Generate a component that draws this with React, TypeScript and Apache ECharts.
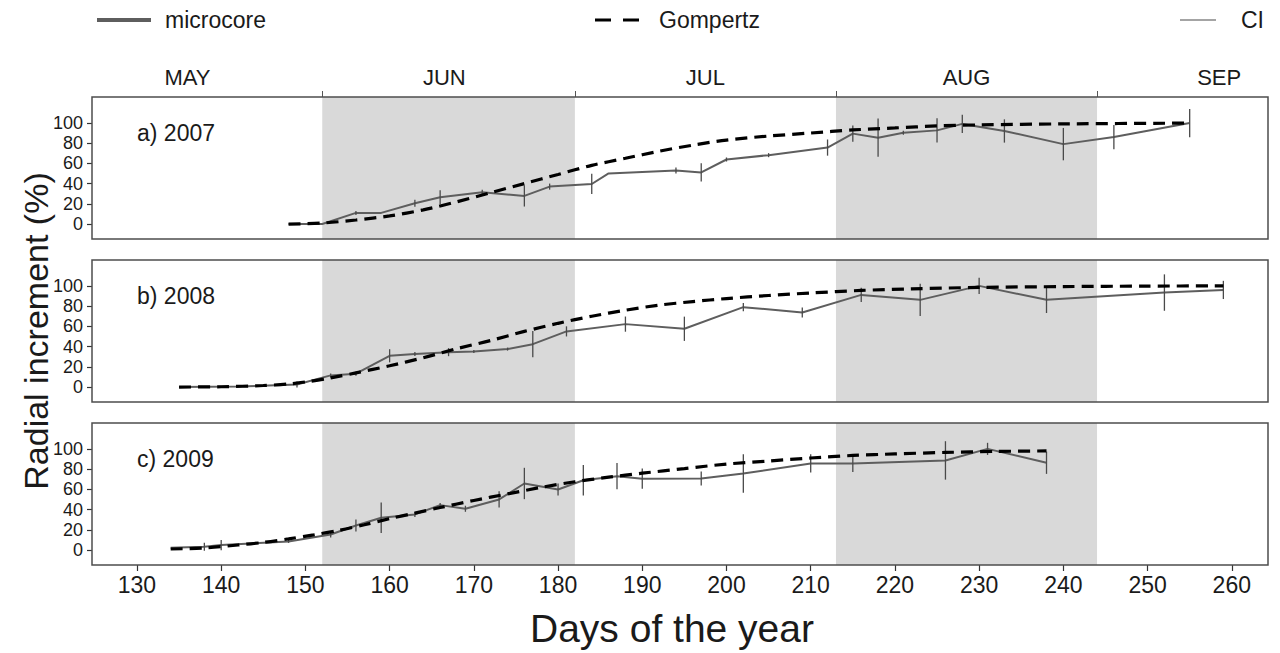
import React, { useEffect, useRef } from 'react';
import * as echarts from 'echarts';

const FONT = '"Liberation Sans", Arial, Helvetica, sans-serif';

// ---- axis ticks / labels ----
const xTicks = [130, 140, 150, 160, 170, 180, 190, 200, 210, 220, 230, 240, 250, 260];
const yTicks = [0, 20, 40, 60, 80, 100];
const monthNames = ['MAY', 'JUN', 'JUL', 'AUG', 'SEP'];
const monthCenters = [136, 166.5, 197.5, 228.5, 258.5];
const monthBounds = [152, 182, 213, 244];
const shadeRanges = [[152, 182], [213, 244]];
const panelLabels = ['a) 2007', 'b) 2008', 'c) 2009'];

// ---- 2007 ----
const daysA = [148, 152, 156, 159, 163, 166, 171, 176, 179, 184, 186, 194, 197, 200, 205, 212, 215, 218, 221, 225, 228, 233, 240, 246, 255];
const microA = [0, 0, 11, 11, 20.5, 26.5, 31.4, 27.8, 37, 39.6, 50, 53, 51, 63.8, 68.1, 75.6, 89.4, 85.4, 90.3, 92.6, 99, 92, 79, 86, 99.8];
const ciA = [0, 0, 2, 0, 3.5, 7, 2.5, 10.5, 3, 10, 0, 3, 9, 2, 2, 8, 8, 19, 2, 12, 9, 11.5, 16, 12, 14];
const gDaysA = [148, 152, 156, 160, 164, 168, 172, 176, 180, 184, 188, 192, 196, 200, 205, 210, 215, 220, 225, 230, 240, 255];
const gompA = [0, 1, 4, 8, 14, 22, 31, 40, 49, 58, 65, 72, 78, 83, 87, 90, 93, 95, 97, 98, 99, 99.8];

// ---- 2008 ----
const daysB = [135, 142, 149, 153, 156, 160, 163, 167, 170, 174, 177, 181, 188, 195, 202, 209, 216, 223, 230, 238, 252, 259];
const microB = [0, 0.5, 2.5, 11.5, 13.2, 30.9, 32.6, 34.5, 35.2, 37.5, 42.4, 55, 62.2, 57.6, 79, 73.7, 91.1, 86.2, 100, 86.2, 93.4, 96];
const ciB = [0, 0, 3, 2, 2, 6.5, 2, 4, 1.5, 1.5, 13, 5, 7.5, 12, 4, 5, 7, 16, 8, 13, 18, 9];
const gDaysB = [135, 140, 145, 148, 150, 153, 156, 160, 164, 168, 172, 176, 180, 184, 188, 192, 196, 200, 205, 210, 216, 222, 230, 240, 250, 259];
const gompB = [0, 0.3, 1.5, 3, 5, 9, 14, 21, 29, 38, 46, 55, 63, 70, 76, 81, 84.5, 87.5, 90.5, 93, 95.5, 97, 98.5, 99.3, 99.8, 100];

// ---- 2009 ----
const daysC = [134, 138, 140, 148, 153, 156, 159, 163, 166, 169, 173, 176, 180, 183, 187, 190, 197, 202, 210, 215, 226, 231, 238];
const microC = [2.2, 3.2, 4.9, 8.5, 15.4, 24.3, 31.9, 35.2, 44.4, 40.8, 50, 65.8, 59.9, 69, 73, 70.5, 70.7, 75.7, 85.6, 85.6, 88.6, 100, 86.3];
const ciC = [0, 4, 5, 1.5, 3, 6, 15, 2.5, 2, 3, 8, 15.5, 6, 15, 13, 10, 7, 19, 9, 8.5, 19, 6, 11];
const gDaysC = [134, 138, 142, 145, 148, 151, 154, 157, 160, 163, 166, 170, 174, 178, 182, 186, 190, 195, 200, 205, 210, 215, 220, 226, 232, 238];
const gompC = [1, 2, 5, 7.5, 11, 15, 19.5, 25, 31, 36.5, 42, 49, 55.5, 62, 67.5, 72, 76, 80.5, 85, 88, 91, 93.5, 95, 96.5, 97.5, 98];

const panels = [
  { days: daysA, micro: microA, ci: ciA, gDays: gDaysA, gomp: gompA },
  { days: daysB, micro: microB, ci: ciB, gDays: gDaysB, gomp: gompB },
  { days: daysC, micro: microC, ci: ciC, gDays: gDaysC, gomp: gompC },
];

const X_MIN = 124.66;
const X_MAX = 264.3;
const Y_MIN = -14.8;
const Y_MAX = 125.6;
const GRID_TOPS = [97, 260, 423];
const GRID_H = 142;
const GRID_LEFT = 92;
const GRID_RIGHT = 12;

const TXT = '#1a1a1a';

function buildOption(): any {
  const grid = GRID_TOPS.map((t) => ({
    left: GRID_LEFT,
    right: GRID_RIGHT,
    top: t,
    height: GRID_H,
    show: true,
    backgroundColor: 'transparent',
    borderColor: '#4d4d4d',
    borderWidth: 1.5,
    z: 10,
  }));

  const xAxis: any[] = GRID_TOPS.map((_, i) => ({
    type: 'value',
    gridIndex: i,
    position: 'bottom',
    min: X_MIN,
    max: X_MAX,
    axisLine: { show: false, onZero: false },
    splitLine: { show: false },
    axisTick:
      i === 2
        ? { show: true, customValues: xTicks, length: 6, lineStyle: { color: '#333', width: 1.2 } }
        : { show: false },
    axisLabel:
      i === 2
        ? { show: true, customValues: xTicks, fontSize: 23, color: TXT, fontFamily: FONT, margin: 8 }
        : { show: false },
  }));
  xAxis.push({
    type: 'value',
    gridIndex: 0,
    position: 'top',
    min: X_MIN,
    max: X_MAX,
    axisLine: { show: false, onZero: false },
    splitLine: { show: false },
    axisTick: { show: true, customValues: monthBounds, length: 6, lineStyle: { color: '#555', width: 1 } },
    axisLabel: {
      show: true,
      customValues: monthCenters,
      fontSize: 22,
      color: TXT,
      fontFamily: FONT,
      margin: 9,
      formatter: (v: number) => {
        const k = monthCenters.findIndex((c) => Math.abs(c - v) < 0.01);
        return k >= 0 ? monthNames[k] : '';
      },
    },
  });

  const yAxis = GRID_TOPS.map((_, i) => ({
    type: 'value',
    gridIndex: i,
    min: Y_MIN,
    max: Y_MAX,
    axisLine: { show: false, onZero: false },
    splitLine: { show: false },
    axisTick: { show: true, customValues: yTicks, length: 5, lineStyle: { color: '#333', width: 1.2 } },
    axisLabel: { show: true, customValues: yTicks, fontSize: 18, color: TXT, fontFamily: FONT, margin: 9 },
  }));

  const series: any[] = [];
  panels.forEach((p, i) => {
    series.push({
      type: 'custom',
      name: 'shade' + i,
      xAxisIndex: i,
      yAxisIndex: i,
      z: 0,
      silent: true,
      data: shadeRanges,
      encode: { x: [0, 1] },
      renderItem: (params: any, api: any) => {
        const s = api.coord([api.value(0), 0]);
        const e = api.coord([api.value(1), 0]);
        const cs = params.coordSys;
        return {
          type: 'rect',
          shape: { x: s[0], y: cs.y, width: e[0] - s[0], height: cs.height },
          style: { fill: '#d9d9d9' },
        };
      },
    });
    series.push({
      type: 'line',
      name: 'microcore',
      xAxisIndex: i,
      yAxisIndex: i,
      z: 2,
      symbol: 'none',
      silent: true,
      lineStyle: { color: '#5e5e5e', width: 2 },
      data: p.days.map((d, k) => [d, p.micro[k]]),
    });
    series.push({
      type: 'custom',
      name: 'CI',
      xAxisIndex: i,
      yAxisIndex: i,
      z: 3,
      silent: true,
      encode: { x: 0, y: [1, 2] },
      data: p.days
        .map((d, k) => [d, p.micro[k] - p.ci[k], p.micro[k] + p.ci[k]])
        .filter((r, k) => p.ci[k] > 0),
      renderItem: (params: any, api: any) => {
        const a = api.coord([api.value(0), api.value(1)]);
        const b = api.coord([api.value(0), api.value(2)]);
        return {
          type: 'line',
          shape: { x1: a[0], y1: a[1], x2: b[0], y2: b[1] },
          style: { stroke: '#4a4a4a', lineWidth: 1.3 },
        };
      },
    });
    series.push({
      type: 'line',
      name: 'Gompertz',
      xAxisIndex: i,
      yAxisIndex: i,
      z: 4,
      symbol: 'none',
      smooth: 0.3,
      silent: true,
      lineStyle: { color: '#000', width: 3.2, type: [12, 7] },
      data: p.gDays.map((d, k) => [d, p.gomp[k]]),
    });
  });

  const graphic: any[] = [
    // legend
    { type: 'line', shape: { x1: 97, y1: 20, x2: 151, y2: 20 }, style: { stroke: '#5e5e5e', lineWidth: 4 } },
    { type: 'text', x: 165, y: 20, style: { text: 'microcore', font: `23px ${FONT}`, fill: TXT, textVerticalAlign: 'middle' } },
    { type: 'line', shape: { x1: 595, y1: 20, x2: 639, y2: 20 }, style: { stroke: '#000', lineWidth: 3.2, lineDash: [16, 12] } },
    { type: 'text', x: 659, y: 20, style: { text: 'Gompertz', font: `23px ${FONT}`, fill: TXT, textVerticalAlign: 'middle' } },
    { type: 'line', shape: { x1: 1180, y1: 20, x2: 1216, y2: 20 }, style: { stroke: '#4a4a4a', lineWidth: 1.2 } },
    { type: 'text', x: 1241, y: 20, style: { text: 'CI', font: `23px ${FONT}`, fill: TXT, textVerticalAlign: 'middle' } },
    // titles
    {
      type: 'text',
      x: 672,
      y: 628,
      style: { text: 'Days of the year', font: `39px ${FONT}`, fill: TXT, textAlign: 'center', textVerticalAlign: 'middle' },
    },
    {
      type: 'text',
      x: 36,
      y: 331,
      rotation: Math.PI / 2,
      style: { text: 'Radial increment (%)', font: `34px ${FONT}`, fill: TXT, textAlign: 'center', textVerticalAlign: 'middle' },
    },
  ];
  panelLabels.forEach((t, i) => {
    graphic.push({
      type: 'text',
      x: 137,
      y: GRID_TOPS[i] + 36,
      z: 20,
      style: { text: t, font: `23px ${FONT}`, fill: TXT, textVerticalAlign: 'middle' },
    });
  });

  return {
    animation: false,
    backgroundColor: '#ffffff',
    textStyle: { fontFamily: FONT },
    grid,
    xAxis,
    yAxis,
    series,
    graphic,
  };
}

export default function App() {
  const ref = useRef<HTMLDivElement>(null);
  useEffect(() => {
    if (!ref.current) return;
    const chart = echarts.init(ref.current, undefined, { renderer: 'svg' });
    chart.setOption(buildOption());
    return () => chart.dispose();
  }, []);
  return (
    <div
      ref={ref}
      style={{ position: 'fixed', left: 0, top: 0, width: 1280, height: 653, background: '#fff' }}
    />
  );
}
